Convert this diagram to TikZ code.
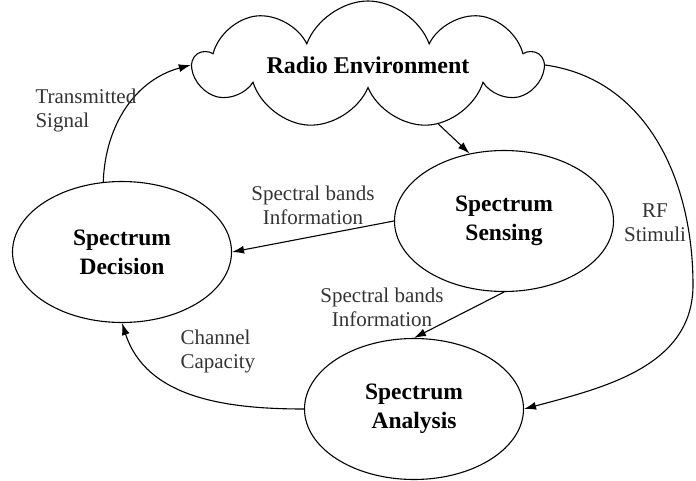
\documentclass[tikz,border=0pt]{standalone}
\usepackage{fontspec}
\setmainfont{Liberation Serif}
\usetikzlibrary{shapes.geometric,shapes.symbols,arrows.meta}

\begin{document}
\begin{tikzpicture}[x=1pt,y=-1pt,
  stage/.style={ellipse,draw,line width=1.1pt,minimum width=219pt,minimum height=141pt,inner sep=0pt,align=center,font=\fontsize{23.5}{29}\selectfont\bfseries},
  flow/.style={line width=1.1pt,-{Latex[length=12pt,width=8pt]}},
  tag/.style={align=center,text=black!80,font=\fontsize{21}{24}\selectfont}]

\useasboundingbox (0,0) rectangle (696,481);

% Draw the radio environment cloud
\node[cloud,draw,line width=1.1pt,cloud puffs=9,cloud puff arc=140,cloud ignores aspect,inner sep=0pt,minimum width=347pt,minimum height=128pt,font=\fontsize{24}{29}\selectfont\bfseries] (radio) at (368,65) {Radio Environment};

% Draw the three stages
\node[stage] (sense) at (504,221) {Spectrum\\Sensing};
\node[stage] (decide) at (122,252) {Spectrum\\Decision};
\node[stage] (analyse) at (414,409) {Spectrum\\Analysis};

% Draw the flows between them
\coordinate (bend) at (693,285);
\draw[flow] (radio.-40) -- (sense.117);
\draw[flow] (sense.west) -- (decide.east);
\draw[flow] (sense.south) -- (analyse.north);
\draw[flow] (analyse.west) to[out=180,in=-72] (decide.south);
\draw[flow] (decide.105) to[out=88,in=195] (radio.west);
\draw[flow] (radio.east) to[out=-8,in=90] (bend) to[out=-90,in=15] (analyse.east);

% Label the flows
\node[tag,align=left,anchor=west] (sent) at (32,110) {Transmitted\\Signal};
\node[tag] (bands1) at (313,205) {Spectral bands\\Information};
\node[tag] (bands2) at (382,307) {Spectral bands\\Information};
\node[tag,align=left,anchor=west] (capacity) at (177,351) {Channel\\Capacity};
\node[tag] (stimuli) at (655,223) {RF\\Stimuli};

\end{tikzpicture}
\end{document}
